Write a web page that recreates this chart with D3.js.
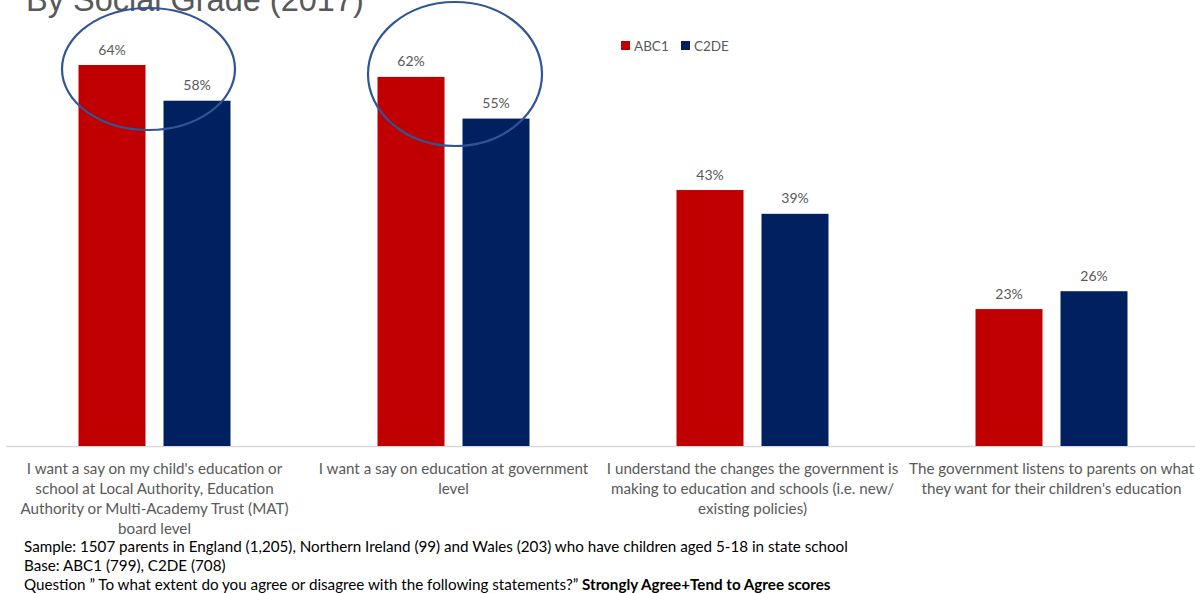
<!DOCTYPE html>
<html><head><meta charset="utf-8">
<script src="https://cdn.jsdelivr.net/npm/d3@7"></script>
<style>body{margin:0;background:#fff}svg{display:block}</style>
</head><body>
<script>
const categories = [
  ["I want a say on my child's education or", "school at Local Authority, Education", "Authority or Multi-Academy Trust (MAT)", "board level"],
  ["I want a say on education at government", "level"],
  ["I understand the changes the government is", "making to education and schools (i.e. new/", "existing policies)"],
  ["The government listens to parents on what", "they want for their children's education"]
];
const seriesNames = ["ABC1", "C2DE"];
const abc1 = [64, 62, 43, 23];
const c2de = [58, 55, 39, 26];
const seriesColors = ["#C00000", "#002060"];
const titleText = "By Social Grade (2017)";
const footnotes = [
  "Sample: 1507 parents in England (1,205), Northern Ireland (99) and Wales (203) who have children aged 5-18 in state school",
  "Base: ABC1 (799), C2DE (708)"
];
const questionText = "Question \u201D To what extent do you agree or disagree with the following statements?\u201D ";
const questionBold = "Strongly Agree+Tend to Agree scores";

const W = 1195, H = 593;
const font = "Lato, 'Open Sans', sans-serif";
const svg = d3.select("body").append("svg").attr("width", W).attr("height", H);

const x = d3.scaleBand().domain(d3.range(categories.length)).range([5, 1201]).paddingInner(0).paddingOuter(0);
const y = d3.scaleLinear().domain([0, 64]).range([446, 65]);
const barW = 67, gap = 18;

// title (clipped at top, as in the reference)
svg.append("text").attr("x", 26).attr("y", 11).attr("font-family", "'Liberation Sans', Arial, sans-serif")
  .attr("font-size", 32.5).attr("fill", "#595959").text(titleText);

// axis line
svg.append("line").attr("x1", 6).attr("x2", W).attr("y1", 446.5).attr("y2", 446.5)
  .attr("stroke", "#D9D9D9").attr("stroke-width", 1.5);

const data = [abc1, c2de];
data.forEach((vals, si) => {
  const g = svg.append("g");
  vals.forEach((v, i) => {
    const cx = x(i) + x.bandwidth() / 2;
    const bx = si === 0 ? cx - gap / 2 - barW : cx + gap / 2;
    g.append("rect").attr("x", bx).attr("y", y(v)).attr("width", barW).attr("height", y(0) - y(v))
      .attr("fill", seriesColors[si]);
    g.append("text").attr("x", bx + barW / 2).attr("y", y(v) - 10.5).attr("text-anchor", "middle")
      .attr("font-family", font).attr("font-size", 14).attr("fill", "#595959").text(v + "%");
  });
});

// category labels
categories.forEach((lines, i) => {
  const cx = x(i) + x.bandwidth() / 2;
  const t = svg.append("text").attr("text-anchor", "middle").attr("font-family", font)
    .attr("font-size", 15.2).attr("fill", "#595959");
  lines.forEach((l, k) => t.append("tspan").attr("x", cx).attr("y", 473.5 + k * 20).text(l));
});

// legend
seriesNames.forEach((n, i) => {
  const lx = 621 + i * 60;
  svg.append("rect").attr("x", lx).attr("y", 41).attr("width", 9).attr("height", 9).attr("fill", seriesColors[i]);
  svg.append("text").attr("x", lx + 13).attr("y", 50.5).attr("font-family", font).attr("font-size", 13.5)
    .attr("fill", "#595959").text(n);
});

// annotation ellipses
const ell = [[0, 148.5, 69, 86.5, 61], [1, 455, 74, 87, 72]];
ell.forEach(e => {
  svg.append("ellipse").attr("cx", e[1]).attr("cy", e[2]).attr("rx", e[3]).attr("ry", e[4])
    .attr("fill", "none").attr("stroke", "#2F5597").attr("stroke-width", 2.2);
});

// footnotes
footnotes.forEach((f, k) => {
  svg.append("text").attr("x", 24).attr("y", 551.5 + k * 19).attr("font-family", font).attr("font-size", 15.2)
    .attr("fill", "#000").text(f);
});
const q = svg.append("text").attr("x", 24).attr("y", 589.5).attr("font-family", font).attr("font-size", 15.2).attr("fill", "#000");
q.append("tspan").text(questionText);
q.append("tspan").attr("font-weight", "bold").text(questionBold);
</script>
</body></html>
